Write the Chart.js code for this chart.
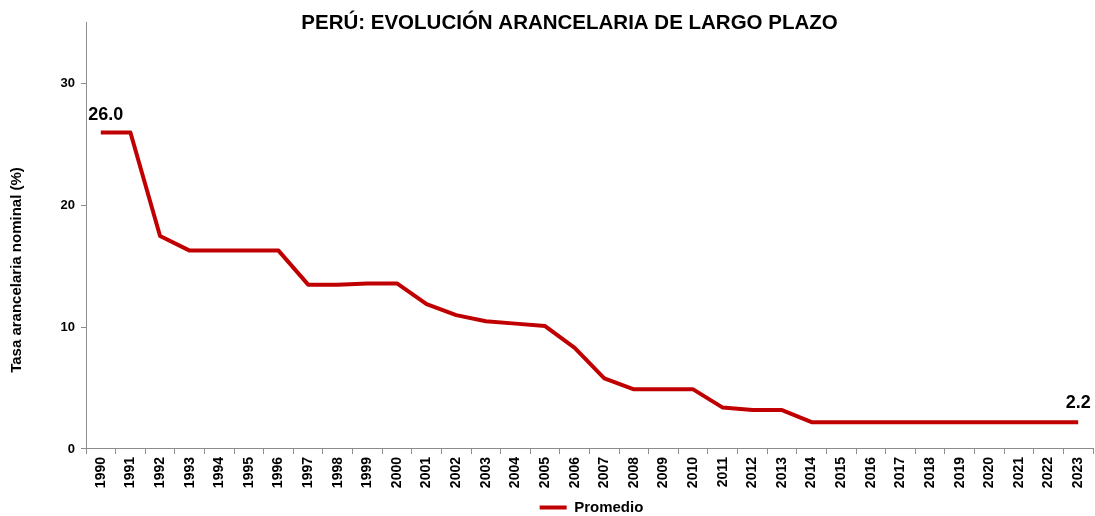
<!DOCTYPE html>
<html>
<head>
<meta charset="utf-8">
<script src="https://cdn.jsdelivr.net/npm/chart.js@4/dist/chart.umd.min.js"></script>
<style>
  html, body { margin: 0; padding: 0; background: #ffffff; }
  #wrap { width: 1095px; height: 516px; }
</style>
</head>
<body>
<div id="wrap"><canvas id="c" width="1095" height="516"></canvas></div>
<script>
// ---- data ----
const chartTitle = 'PERÚ: EVOLUCIÓN ARANCELARIA DE LARGO PLAZO';
const yAxisTitle = 'Tasa arancelaria nominal (%)';
const seriesName = 'Promedio';
const years = ['1990','1991','1992','1993','1994','1995','1996','1997','1998','1999',
               '2000','2001','2002','2003','2004','2005','2006','2007','2008','2009',
               '2010','2011','2012','2013','2014','2015','2016','2017','2018','2019',
               '2020','2021','2022','2023'];
const promedio = [26.0, 26.0, 17.5, 16.3, 16.3, 16.3, 16.3, 13.5, 13.5, 13.6,
                  13.6, 11.9, 11.0, 10.5, 10.3, 10.1, 8.3, 5.8, 4.9, 4.9,
                  4.9, 3.4, 3.2, 3.2, 2.2, 2.2, 2.2, 2.2, 2.2, 2.2,
                  2.2, 2.2, 2.2, 2.2];
const labeledIndexes = [0, 33];
const yTickValues = [0, 10, 20, 30];
const yMin = 0, yMax = 35;

// ---- styles ----
const FONT = "'Liberation Sans', Arial, Helvetica, sans-serif";
const AXIS = '#8c8c8c';
const RED = '#C00000';

const shiftPlugin = {
  id: 'shiftBlocks',
  afterLayout(chart) {
    const t = chart.titleBlock;
    if (t) { t.top += 11.5; t.bottom += 11.5; t.left += 23; t.right += 23; }
    const l = chart.legend;
    if (l) { l.top += 9; l.bottom += 9; l.left += 2; l.right += 2; }
  }
};

const endLabels = {
  id: 'endLabels',
  afterDatasetsDraw(chart) {
    const meta = chart.getDatasetMeta(0);
    const ctx = chart.ctx;
    ctx.save();
    ctx.font = 'bold 18px ' + FONT;
    ctx.fillStyle = '#000000';
    ctx.textAlign = 'center';
    ctx.textBaseline = 'middle';
    labeledIndexes.forEach((i, k) => {
      const p = meta.data[i];
      const dx = k === 0 ? 5 : 0;
      const dy = k === 0 ? 17 : 19;
      ctx.fillText(promedio[i].toFixed(1), p.x + dx, p.y - dy);
    });
    ctx.restore();
  }
};

const yTitlePlugin = {
  id: 'yTitle',
  afterDraw(chart) {
    const ctx = chart.ctx;
    ctx.save();
    ctx.translate(17, 270);
    ctx.rotate(-Math.PI / 2);
    ctx.font = 'bold 15px ' + FONT;
    ctx.fillStyle = '#000000';
    ctx.textAlign = 'center';
    ctx.textBaseline = 'middle';
    ctx.fillText(yAxisTitle, 0, 0);
    ctx.restore();
  }
};

new Chart(document.getElementById('c'), {
  type: 'line',
  data: {
    labels: years,
    datasets: [{
      label: seriesName,
      data: promedio,
      borderColor: RED,
      backgroundColor: RED,
      borderWidth: 4,
      pointRadius: 0,
      pointHoverRadius: 0,
      tension: 0,
      fill: false,
      borderJoinStyle: 'round'
    }]
  },
  options: {
    responsive: false,
    animation: false,
    devicePixelRatio: 1,
    layout: { padding: { top: 0, right: 2, bottom: 0, left: 0 } },
    plugins: {
      title: {
        display: true,
        text: chartTitle,
        color: '#000000',
        font: { family: FONT, size: 20.5, weight: 'bold', lineHeight: 1.12 },
        padding: 0
      },
      legend: {
        display: true,
        position: 'bottom',
        fullSize: false,
        labels: {
          color: '#000000',
          font: { family: FONT, size: 15, weight: 'bold' },
          boxWidth: 27,
          boxHeight: 4,
          padding: 0,
          generateLabels(chart) {
            return Chart.defaults.plugins.legend.labels.generateLabels(chart)
              .map(l => Object.assign(l, { lineWidth: 0, fillStyle: RED, strokeStyle: RED }));
          }
        }
      },
      tooltip: { enabled: false }
    },
    scales: {
      x: {
        offset: true,
        grid: { offset: true, drawOnChartArea: false, drawTicks: true, tickLength: 5, color: AXIS },
        border: { display: true, color: AXIS, width: 1 },
        ticks: {
          autoSkip: false, minRotation: 90, maxRotation: 90, padding: 3,
          color: '#000000', font: { family: FONT, size: 14, weight: 'bold' }
        },
        afterFit(s) { s.height = 42; s.paddingLeft = 0; s.paddingRight = 0; }
      },
      y: {
        min: yMin, max: yMax,
        afterBuildTicks(s) { s.ticks = yTickValues.map(v => ({ value: v })); },
        grid: { drawOnChartArea: false, drawTicks: true, tickLength: 5, color: AXIS },
        border: { display: true, color: AXIS, width: 1 },
        ticks: { padding: 6, color: '#000000', font: { family: FONT, size: 13, weight: 'bold' } },
        afterFit(s) { s.width = 86; }
      }
    }
  },
  plugins: [shiftPlugin, endLabels, yTitlePlugin]
});
</script>
</body>
</html>
